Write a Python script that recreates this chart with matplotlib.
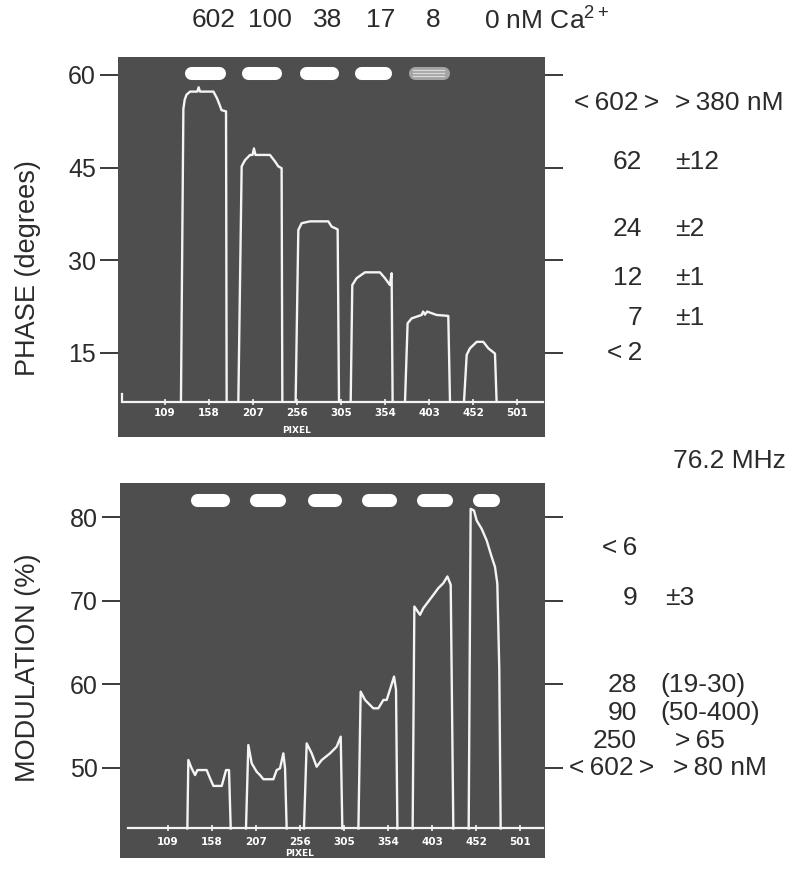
import matplotlib
matplotlib.use('Agg')
import matplotlib.pyplot as plt

plt.rcParams['font.family'] = ['Liberation Sans', 'DejaVu Sans']
plt.rcParams['mathtext.fontset'] = 'custom'
plt.rcParams['mathtext.rm'] = 'Liberation Sans'

W, H = 800, 872

# Ca2+ concentrations written over the samples (nM)
conc_labels = ['602', '100', '38', '17', '8', '0']

# x axis of the camera images
pixel_ticks = [109, 158, 207, 256, 305, 354, 403, 452, 501]

phase_ticks = [15, 30, 45, 60]
mod_ticks = [50, 60, 70, 80]

# phase traces, one list per sample (x = pixel, y = degrees)
phase_x = [
    [126.8, 129.5, 131.0, 133.0, 137.0, 145.0, 146.5, 148.0, 163.0, 167.0, 170.0, 172.0, 177.0, 177.7],
    [190.7, 194.4, 198.1, 203.7, 206.5, 208.1, 209.8, 225.9, 231.5, 235.2, 238.9, 239.7],
    [254.5, 257.5, 261.2, 270.5, 290.9, 294.6, 301.3, 302.8],
    [315.8, 317.6, 322.4, 331.7, 348.4, 354.0, 359.5, 361.4, 362.5],
    [376.3, 379.2, 383.7, 394.8, 396.5, 398.5, 401.0, 411.5, 424.5, 426.4],
    [442.0, 445.0, 448.6, 456.1, 463.5, 469.1, 476.5, 478.3],
]
phase_y = [
    [7.1, 54.5, 56.0, 56.8, 57.3, 57.3, 58.0, 57.3, 57.3, 56.2, 55.1, 54.3, 54.1, 7.1],
    [7.1, 45.2, 46.2, 47.05, 47.05, 48.1, 47.05, 47.05, 46.0, 45.2, 44.9, 7.1],
    [7.1, 34.9, 36.0, 36.3, 36.3, 35.45, 35.0, 7.1],
    [7.1, 26.0, 27.1, 28.05, 28.05, 27.1, 26.0, 27.9, 7.1],
    [7.1, 19.8, 20.6, 21.15, 21.7, 21.2, 21.7, 21.15, 21.0, 7.1],
    [7.1, 14.7, 15.75, 16.8, 16.8, 15.75, 14.9, 7.1],
]
phase_base_x = [60.7, 60.7, 530.3]
phase_base_y = [8.3, 7.1, 7.1]

# modulation traces (x = pixel, y = %)
mod_x = [
    [130.5, 131.6, 135.3, 139.1, 141.7, 152.0, 155.8, 159.5, 168.8, 173.6, 176.9, 178.8],
    [195.8, 198.4, 202.2, 207.7, 211.4, 215.2, 226.3, 230.0, 233.7, 237.4, 239.3, 241.1],
    [260.4, 263.4, 269.0, 274.5, 280.1, 289.4, 296.8, 301.3, 303.1],
    [321.0, 323.5, 328.4, 337.6, 343.2, 348.8, 352.5, 360.7, 362.9, 364.4],
    [381.4, 383.3, 389.6, 393.3, 398.9, 404.5, 410.0, 415.6, 420.1, 423.8, 426.7],
    [443.8, 446.0, 449.7, 452.7, 458.3, 463.9, 469.4, 473.1, 475.7, 477.9, 479.4],
]
mod_y = [
    [42.7, 50.9, 49.9, 49.1, 49.7, 49.7, 48.7, 47.8, 47.8, 49.7, 49.7, 42.7],
    [42.7, 52.7, 50.5, 49.5, 49.1, 48.6, 48.6, 49.7, 49.9, 51.7, 49.9, 42.7],
    [42.7, 52.9, 51.7, 50.1, 50.9, 51.7, 52.5, 53.7, 42.7],
    [42.7, 59.1, 58.1, 57.1, 57.1, 58.1, 58.1, 60.9, 59.3, 42.7],
    [42.7, 69.3, 68.3, 69.1, 69.9, 70.7, 71.5, 72.1, 72.9, 71.9, 42.7],
    [42.7, 81.0, 80.8, 79.6, 78.6, 77.2, 75.25, 74.05, 72.05, 61.7, 42.7],
]
mod_base_x = [64.8, 527.0]
mod_base_y = [42.7, 42.7]

# dissociation constants beside the panels
phase_kd = ['<602>', '62', '24', '12', '7', '<2']
phase_err = ['>380 nM', '\u00b112', '\u00b12', '\u00b11', '\u00b11', '']
mod_kd = ['<6', '9', '28', '90', '250', '<602>']
mod_err = ['', '\u00b13', '(19-30)', '(50-400)', '>65', '>80 nM']

# ---- layout (pixels of the 800x872 picture) ----
PANEL = '#4e4e4e'
TRACE = '#f4f4f4'
INK = '#2b2b2b'
FS = 19


def fx(x):
    return x / W


def fy(y):
    return 1 - y / H


fig = plt.figure(figsize=(W / 100, H / 100), dpi=100)
fig.patch.set_facecolor('white')

ax1 = fig.add_axes([fx(118), fy(437), (545 - 118) / W, (437 - 57) / H])
ax1.set_xlim(56.7, 532.2)
ax1.set_ylim(1.4, 62.9)

ax2 = fig.add_axes([fx(120), fy(858), (545 - 120) / W, (858 - 483) / H])
ax2.set_xlim(55.5, 528.8)
ax2.set_ylim(39.16, 84.1)


def style_panel(ax, yticks):
    ax.set_facecolor(PANEL)
    for s in ax.spines.values():
        s.set_visible(False)
    ax.set_xticks([])
    ax.set_yticks(yticks)
    ax.tick_params(axis='y', direction='out', length=13, width=1.3, color=INK,
                   left=True, right=True, labelleft=True, labelright=False,
                   labelsize=18, labelcolor=INK, pad=3)


def draw_traces(ax, xs, ys, bx, by, label_y, pixel_y):
    ax.plot(bx, by, color=TRACE, lw=1.6, solid_joinstyle='miter')
    ax.plot(pixel_ticks, [by[-1]] * len(pixel_ticks), ls='none', marker='|',
            ms=4, mew=1.2, color=TRACE)
    for x, y in zip(xs, ys):
        ax.plot(x, y, color=TRACE, lw=1.7)
    for t in pixel_ticks:
        ax.text(t, label_y, str(t), color='white', fontsize=7.5,
                family='DejaVu Sans', weight='bold', ha='center', va='center')
    ax.text(256, pixel_y, 'PIXEL', color='white', fontsize=6.5,
            family='DejaVu Sans', weight='bold', ha='center', va='center')


def draw_pills(ax, xs, ypill, kinds):
    cap = 7.2
    for x, kind in zip(xs, kinds):
        if kind is None:
            continue
        x0, x1 = x[0] + 4 + cap, x[-1] - 1 - cap
        if kind == 'faint':
            ax.plot([x0, x1], [ypill, ypill], color='#a4a4a4', lw=9.4,
                    solid_capstyle='round')
            for dy in (-0.45, 0.0, 0.45):
                ax.plot([x0 - 2, x1 + 2], [ypill + dy] * 2, color='#dadada', lw=0.9)
        else:
            ax.plot([x0, x1], [ypill, ypill], color='white', lw=9.4,
                    solid_capstyle='round')


style_panel(ax1, phase_ticks)
style_panel(ax2, mod_ticks)

draw_traces(ax1, phase_x, phase_y, phase_base_x, phase_base_y, 5.3, 2.4)
draw_traces(ax2, mod_x, mod_y, mod_base_x, mod_base_y, 41.1, 39.7)

draw_pills(ax1, phase_x, 60.3, ['solid', 'solid', 'solid', 'solid', 'faint', None])
draw_pills(ax2, mod_x, 82.1, ['solid'] * 6)

# axis titles
fig.text(fx(28), fy(268), 'PHASE (degrees)', rotation=90, fontsize=19.5,
         color=INK, ha='center', va='center')
fig.text(fx(28), fy(668), 'MODULATION (%)', rotation=90, fontsize=19.5,
         color=INK, ha='center', va='center')

# concentration header
head_x = [214, 270, 328, 381, 433]
for lab, x in zip(conc_labels[:-1], head_x):
    fig.text(fx(x), fy(20), lab, fontsize=FS, color=INK, ha='center', va='center')
fig.text(fx(484), fy(20), conc_labels[-1] + ' nM Ca$^{2+}$', fontsize=FS,
         color=INK, ha='left', va='center')


def spaced(s):
    # the typeset signs < and > sit a little apart from the numbers
    return s.replace('<', '<\u2009').replace('>', '\u2009>') if s.startswith('<') else \
        s.replace('>', '>\u2009')


def kd_column(kd, err, rows, col1, col2_x):
    for k, e, y, x2 in zip(kd, err, rows, col2_x):
        xr = col1 + 17 if k.endswith('>') else col1
        fig.text(fx(xr), fy(y), spaced(k), fontsize=FS, color=INK, ha='right', va='center')
        if e:
            fig.text(fx(x2), fy(y), spaced(e), fontsize=FS, color=INK, ha='left', va='center')


kd_column(phase_kd, phase_err, [103, 162, 229, 278, 318, 353], 642,
          [675, 675, 675, 675, 675, 675])
kd_column(mod_kd, mod_err, [548, 598, 685, 713, 741, 768], 637,
          [665, 665, 660, 660, 675, 673])

fig.text(fx(673), fy(461), '76.2 MHz', fontsize=FS, color=INK, ha='left', va='center')

fig.savefig('out.png', dpi=100)
